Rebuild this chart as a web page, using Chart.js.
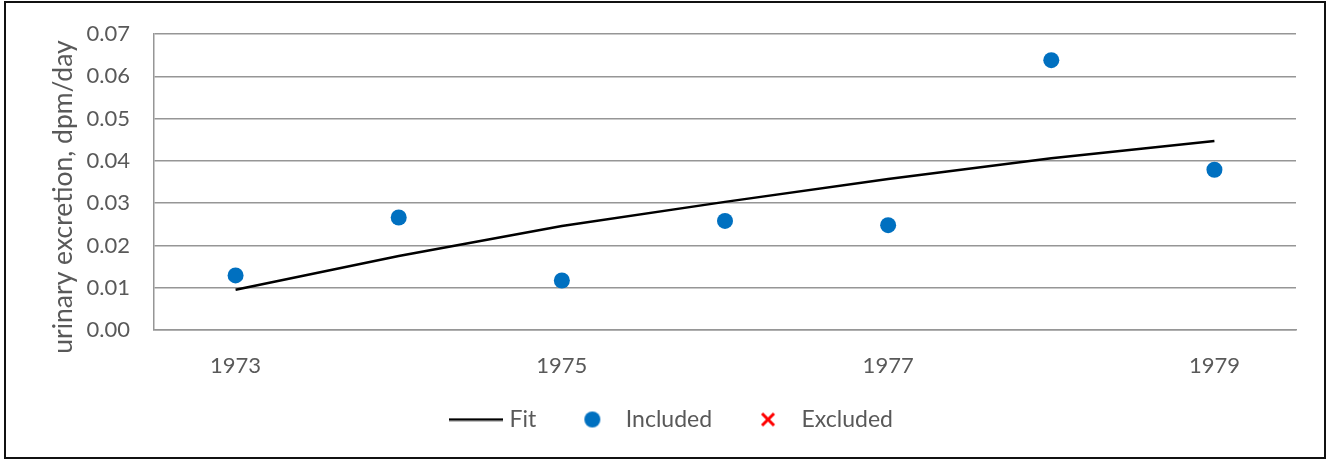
<!DOCTYPE html>
<html><head><meta charset="utf-8">
<script src="https://cdn.jsdelivr.net/npm/chart.js@4.4.1/dist/chart.umd.min.js"></script>
<style>
html,body{margin:0;padding:0;background:#fff;}
#wrap{position:relative;width:1328px;height:460px;overflow:hidden;}
#frame{position:absolute;left:4px;top:1px;width:1318px;height:454px;border:2px solid #111;pointer-events:none;}
canvas{position:absolute;left:0;top:0;}
</style></head><body>
<div id="wrap"><canvas id="c" width="1328" height="460"></canvas><div id="frame"></div></div>
<script>
const years = ['1973','1974','1975','1976','1977','1978','1979'];
const xTickLabels = ['1973','','1975','','1977','','1979'];
const fitValues = [0.0095, 0.0175, 0.0246, 0.0303, 0.0357, 0.0406, 0.0447];
const includedValues = [0.0129, 0.0266, 0.0117, 0.0258, 0.0248, 0.0638, 0.0379];
const excludedValues = [null, null, null, null, null, null, null];
const seriesNames = ['Fit', 'Included', 'Excluded'];
const yTitle = 'urinary excretion, dpm/day';

const FONT = 'Lato, "Liberation Sans", sans-serif';
const TEXT = '#595959';
const GRID = '#969696';
const BLUE = '#0070C0';
const RED = '#FF0000';

function makeIcon(w, h, draw) {
  const c = document.createElement('canvas');
  c.width = w; c.height = h;
  draw(c.getContext('2d'), w, h);
  return c;
}
const legendIcons = [
  makeIcon(54, 4, (g, w, h) => { g.strokeStyle = '#000'; g.lineWidth = 2.5; g.beginPath(); g.moveTo(0, h/2); g.lineTo(w, h/2); g.stroke(); }),
  makeIcon(18, 18, (g, w, h) => { g.fillStyle = BLUE; g.beginPath(); g.arc(w/2, h/2, 8, 0, Math.PI*2); g.fill(); }),
  makeIcon(18, 18, (g, w, h) => { g.strokeStyle = RED; g.lineWidth = 3; g.beginPath(); g.moveTo(3, 3); g.lineTo(w-3, h-3); g.moveTo(w-3, 3); g.lineTo(3, h-3); g.stroke(); })
];

// y-axis title drawn as real canvas text, centred slightly below plot middle like the reference
const yTitlePlugin = {
  id: 'yTitlePlugin',
  afterDraw(chart) {
    const { ctx, chartArea } = chart;
    ctx.save();
    ctx.translate(63, (chartArea.top + chartArea.bottom) / 2 + 15);
    ctx.rotate(-Math.PI / 2);
    ctx.font = '26.5px ' + FONT;
    ctx.fillStyle = TEXT;
    ctx.textAlign = 'center';
    ctx.textBaseline = 'middle';
    ctx.fillText(yTitle, 0, 0);
    ctx.restore();
  }
};

new Chart(document.getElementById('c'), {
  type: 'line',
  data: {
    labels: years,
    datasets: [
      { label: seriesNames[0], data: fitValues, borderColor: '#000', borderWidth: 2.5, pointRadius: 0, fill: false, tension: 0 },
      { label: seriesNames[1], data: includedValues, showLine: false, pointRadius: 8, pointStyle: 'circle', backgroundColor: BLUE, borderColor: BLUE, borderWidth: 0 },
      { label: seriesNames[2], data: excludedValues, showLine: false, pointRadius: 8, pointStyle: 'crossRot', borderColor: RED, backgroundColor: RED, borderWidth: 3 }
    ]
  },
  plugins: [yTitlePlugin],
  options: {
    responsive: false,
    animation: false,
    devicePixelRatio: 1,
    layout: { padding: { left: 19, right: 0, top: 34, bottom: 19 } },
    plugins: {
      tooltip: { enabled: false },
      legend: {
        position: 'bottom',
        labels: {
          usePointStyle: true,
          pointStyleWidth: 44,
          padding: 34,
          color: TEXT,
          font: { family: FONT, size: 23, lineHeight: 1 },
          generateLabels: (chart) => Chart.defaults.plugins.legend.labels.generateLabels(chart)
            .map((l, i) => Object.assign(l, { pointStyle: legendIcons[i] }))
        }
      }
    },
    scales: {
      x: {
        type: 'category',
        offset: true,
        grid: { display: false, drawTicks: false },
        border: { display: true, color: GRID, width: 1.5 },
        ticks: {
          autoSkip: false, maxRotation: 0, padding: 25, color: TEXT,
          font: { family: FONT, size: 22, lineHeight: 1 },
          callback: (v, i) => xTickLabels[i]
        },
        afterFit: (s) => { s.height = 44; }
      },
      y: {
        min: 0, max: 0.07,
        ticks: {
          stepSize: 0.01, padding: 24, color: TEXT,
          font: { family: FONT, size: 22, lineHeight: 0.8 },
          callback: (v) => Number(v).toFixed(2)
        },
        grid: { color: GRID, lineWidth: 1.5, drawTicks: false },
        border: { display: true, color: GRID, width: 1.5 },
        afterFit: (s) => { s.width = 135; }
      },
      yRightSpace: {
        position: 'right',
        display: true,
        ticks: { display: false },
        grid: { display: false, drawTicks: false },
        border: { display: false },
        afterFit: (s) => { s.width = 32; }
      }
    }
  }
});
</script>
</body></html>
